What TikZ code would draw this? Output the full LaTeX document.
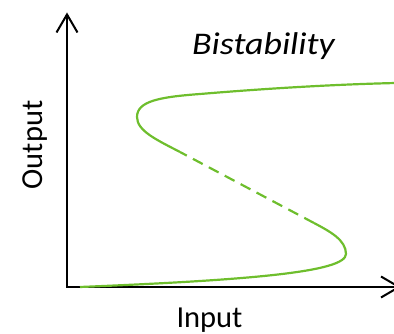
\documentclass[tikz,border=0pt]{standalone}
\usepackage{fontspec}
\setmainfont{Carlito}
\usetikzlibrary{arrows.meta}
\definecolor{curvegreen}{RGB}{110,190,45}
\tikzset{
  axis/.style={line width=2pt, black, -{Straight Barb[length=18pt,width=21pt,line width=2pt]}},
  branch/.style={line width=2.2pt, curvegreen, line cap=butt},
  unstable/.style={branch, dash pattern=on 11pt off 7pt},
  lbl/.style={font=\fontsize{30.5}{36}\selectfont, inner sep=0pt, anchor=base}
}
\begin{document}
\begin{tikzpicture}[x=1pt,y=-1pt]
\useasboundingbox (0,0) rectangle (394,334);
\clip (0,0) rectangle (394,334);
\coordinate (origin) at (67,287);
\coordinate (ytip) at (67,12.5);
\coordinate (xtip) at (401,287);
\draw[axis] (origin) -- (ytip);
\draw[axis] ([xshift=-1pt]origin) -- (xtip);
\coordinate (start) at (80,287);
\coordinate (lowturn) at (346,254);
\coordinate (dashA) at (314,223);
\coordinate (dashB) at (180,152);
\coordinate (upturn) at (137,117);
\coordinate (upmid) at (200,94);
\coordinate (upend) at (396,83);
\draw[branch] (start) .. controls (250,280) and (346,272) .. (lowturn)
  .. controls (346,240) and (330,231.5) .. (dashA);
\draw[unstable] (dashA) -- (dashB);
\draw[branch] (dashB) .. controls (157,140) and (137,131) .. (upturn)
  .. controls (137,101) and (160,97) .. (upmid)
  .. controls (260,89) and (330,84.5) .. (upend);
\node[lbl, font=\fontsize{31.5}{36}\selectfont\itshape, xscale=1.14] (title) at (263.5,55) {Bistability};
\node[lbl] (xlabel) at (209.5,327) {Input};
\node[lbl, rotate=90] (ylabel) at (42,145) {Output};
\end{tikzpicture}
\end{document}
